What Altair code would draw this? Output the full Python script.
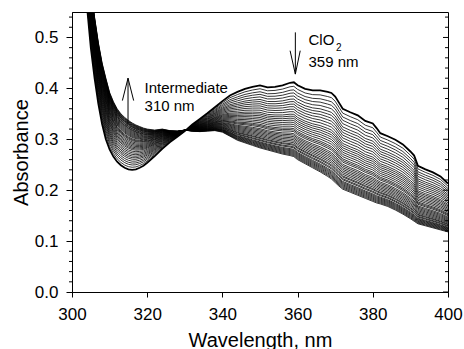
import altair as alt
import pandas as pd

# ---------------- data ----------------
wavelength = [300, 301, 302, 303, 304, 305, 306, 307, 308, 309, 310, 311, 312, 313, 314, 315,
              316, 317, 318, 319, 320, 322, 324, 326, 328, 330, 332, 334, 336, 338, 340, 342,
              344, 346, 348, 350, 352, 354, 356, 358, 359, 360, 362, 364, 366, 368, 369, 370,
              371, 372, 374, 376, 378, 380, 381, 382, 384, 386, 388, 390, 391, 392, 394, 396,
              398, 400]

# first spectrum (ClO2 dominated, t = 0)
first_spectrum = [1.00, 0.88, 0.77, 0.66, 0.56, 0.48, 0.42, 0.37, 0.33, 0.30, 0.28, 0.266, 0.256,
                  0.249, 0.244, 0.241, 0.240, 0.241, 0.244, 0.248, 0.254, 0.267, 0.281, 0.294,
                  0.305, 0.316, 0.329, 0.340, 0.351, 0.363, 0.375, 0.386, 0.393, 0.399, 0.403,
                  0.406, 0.402, 0.403, 0.406, 0.411, 0.412, 0.406, 0.399, 0.396, 0.396, 0.393,
                  0.391, 0.384, 0.372, 0.360, 0.353, 0.347, 0.336, 0.331, 0.322, 0.312, 0.306,
                  0.299, 0.290, 0.276, 0.268, 0.248, 0.241, 0.235, 0.227, 0.213]

# last spectrum (intermediate grown in)
last_spectrum = [1.00, 0.94, 0.86, 0.77, 0.68, 0.60, 0.54, 0.49, 0.45, 0.42, 0.392, 0.374, 0.360,
                 0.350, 0.343, 0.337, 0.332, 0.328, 0.325, 0.322, 0.320, 0.318, 0.320, 0.317,
                 0.316, 0.318, 0.316, 0.315, 0.316, 0.317, 0.314, 0.306, 0.298, 0.293, 0.288,
                 0.283, 0.279, 0.275, 0.271, 0.268, 0.266, 0.260, 0.252, 0.244, 0.236, 0.227,
                 0.222, 0.215, 0.208, 0.202, 0.196, 0.190, 0.184, 0.178, 0.175, 0.173, 0.168,
                 0.161, 0.153, 0.144, 0.139, 0.134, 0.130, 0.126, 0.122, 0.118]

# absorbance at 359 nm of each recorded spectrum (top to bottom)
abs_359 = [0.412, 0.404, 0.397, 0.391, 0.385, 0.379, 0.374, 0.369, 0.364, 0.359, 0.354, 0.349,
           0.345, 0.341, 0.337, 0.333, 0.329, 0.325, 0.321, 0.318, 0.315, 0.311, 0.308, 0.305,
           0.302, 0.299, 0.296, 0.293, 0.290, 0.288, 0.285, 0.283, 0.280, 0.278, 0.276, 0.274,
           0.272, 0.270, 0.268, 0.266]

y_major = [0.0, 0.1, 0.2, 0.3, 0.4, 0.5]
y_minor = [0.02, 0.04, 0.06, 0.08, 0.12, 0.14, 0.16, 0.18, 0.22, 0.24, 0.26, 0.28, 0.32, 0.34,
           0.36, 0.38, 0.42, 0.44, 0.46, 0.48, 0.52, 0.54]
x_ticks = [300, 320, 340, 360, 380, 400]

# annotation texts and arrows (data coordinates)
ann_text = ["Intermediate", "310 nm", "ClO", "359 nm"]
ann_x = [319.3, 319.3, 362.9, 362.9]
ann_y = [0.400, 0.366, 0.4955, 0.452]
sub_text = ["2"]
sub_x = [370.2]
sub_y = [0.480]
arrow_x = [314.9, 313.4, 316.4, 359.4, 358.0, 360.7]
arrow_y = [0.330, 0.376, 0.376, 0.510, 0.474, 0.474]
arrow_x2 = [314.9, 314.9, 314.9, 359.4, 359.4, 359.4]
arrow_y2 = [0.420, 0.420, 0.420, 0.428, 0.428, 0.428]

# ---------------- build tables ----------------
assert len(wavelength) == len(first_spectrum) == len(last_spectrum)
i359 = wavelength.index(359)
F359, L359 = first_spectrum[i359], last_spectrum[i359]
rows = []
for k, a in enumerate(abs_359):
    frac = (a - L359) / (F359 - L359)
    for w, f, l in zip(wavelength, first_spectrum, last_spectrum):
        rows.append({"curve": k, "wl": w, "A": l + frac * (f - l)})
spec = pd.DataFrame(rows)

W, H = 376, 280
xs = alt.Scale(domain=[300, 400], nice=False, zero=False)
ys = alt.Scale(domain=[0, 0.55], nice=False)

lines = alt.Chart(spec[spec.curve > 0]).mark_line(
    color="black", strokeWidth=0.8, clip=True
).encode(
    x=alt.X("wl:Q", scale=xs,
            axis=alt.Axis(values=x_ticks, title="Wavelength, nm", format="d",
                          tickSize=5, labelPadding=9, labelFlush=False, titleX=188, titleY=54,
                          titleBaseline="alphabetic", titleAlign="center")),
    y=alt.Y("A:Q", scale=ys,
            axis=alt.Axis(values=y_major, format=".1f", title="Absorbance",
                          tickSize=6, labelPadding=8, labelFlush=False, titleX=-45, titleY=140,
                          titleAngle=270, titleBaseline="alphabetic", titleAlign="center")),
    detail="curve:N",
)

first = alt.Chart(spec[spec.curve == 0]).mark_line(
    color="black", strokeWidth=1.8, clip=True
).encode(x=alt.X("wl:Q", scale=xs), y=alt.Y("A:Q", scale=ys))

minor_df = pd.DataFrame({"v": y_minor})
major_df = pd.DataFrame({"v": y_major})
left_minor = alt.Chart(minor_df).mark_rule(color="black", strokeWidth=1).encode(
    y=alt.Y("v:Q", scale=ys), x=alt.value(-3), x2=alt.value(0))
right_minor = alt.Chart(minor_df).mark_rule(color="black", strokeWidth=1).encode(
    y=alt.Y("v:Q", scale=ys), x=alt.value(W - 3), x2=alt.value(W))
right_major = alt.Chart(major_df).mark_rule(color="black", strokeWidth=1).encode(
    y=alt.Y("v:Q", scale=ys), x=alt.value(W - 5), x2=alt.value(W))

txt_df = pd.DataFrame({"x": ann_x, "y": ann_y, "t": ann_text})
texts = alt.Chart(txt_df).mark_text(
    align="left", baseline="middle", fontSize=15, font="Liberation Sans", color="black"
).encode(x=alt.X("x:Q", scale=xs), y=alt.Y("y:Q", scale=ys), text="t:N")

sub_df = pd.DataFrame({"x": sub_x, "y": sub_y, "t": sub_text})
subs = alt.Chart(sub_df).mark_text(
    align="left", baseline="middle", fontSize=10, font="Liberation Sans", color="black"
).encode(x=alt.X("x:Q", scale=xs), y=alt.Y("y:Q", scale=ys), text="t:N")

arr_df = pd.DataFrame({"x": arrow_x, "y": arrow_y, "x2": arrow_x2, "y2": arrow_y2})
arrows = alt.Chart(arr_df).mark_rule(color="black", strokeWidth=1).encode(
    x=alt.X("x:Q", scale=xs), y=alt.Y("y:Q", scale=ys), x2="x2:Q", y2="y2:Q")

chart = alt.layer(
    lines, first, left_minor, right_minor, right_major, arrows, texts, subs
).properties(
    width=W, height=H,
    autosize=alt.AutoSizeParams(type="none"),
    padding={"left": 72, "top": 12, "right": 16, "bottom": 57},
).configure(
    font="Liberation Sans", background="white"
).configure_view(
    stroke="black", strokeWidth=1
).configure_axis(
    grid=False, labelFontSize=17, titleFontSize=20, labelColor="black", titleColor="black",
    titleFontWeight="normal", domainColor="black", tickColor="black", labelFont="Liberation Sans",
    titleFont="Liberation Sans", domainWidth=1, tickWidth=1
)

chart.save("out.html", embed_options={"renderer": "svg", "actions": False})
